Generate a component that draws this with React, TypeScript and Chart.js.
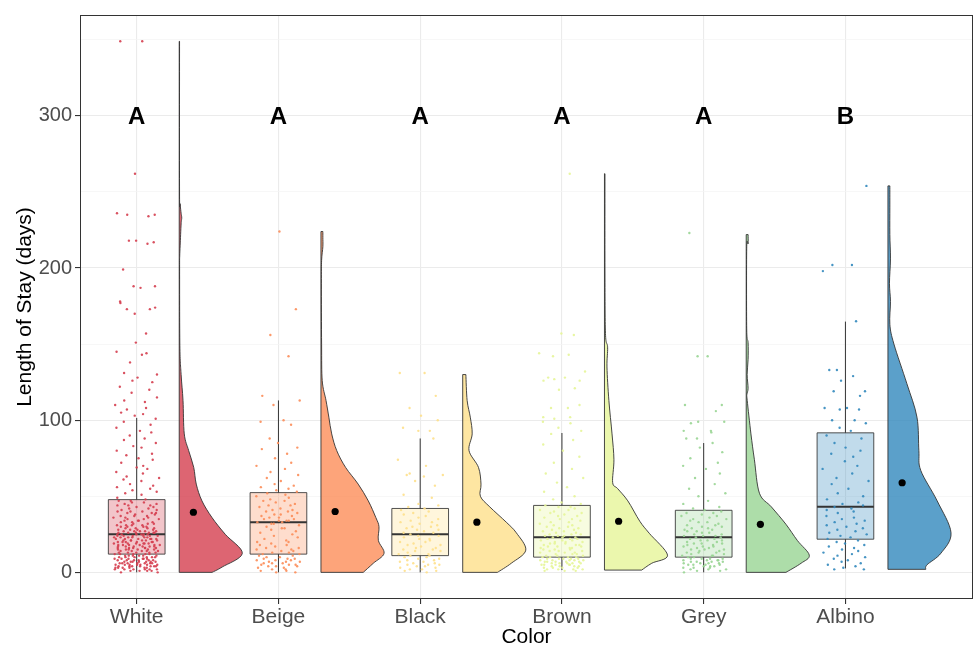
import React, { useEffect, useRef } from 'react';
import { Chart, registerables } from 'chart.js';
Chart.register(...registerables);

// ---------- data ----------
const categories = ['White', 'Beige', 'Black', 'Brown', 'Grey', 'Albino'];
const groupLetters = ['A', 'A', 'A', 'A', 'A', 'B'];
const letterLevel = 300;
const yMajorTicks = [0, 100, 200, 300];
const yMinorTicks = [50, 150, 250, 350];

// boxplot statistics (days)
const boxLow = [0, 0, 0, 1.5, 0, 2.6];
const boxQ1 = [12, 12, 11, 10, 10, 21.8];
const boxMedian = [25, 33, 25, 23, 23, 43.2];
const boxQ3 = [47.8, 52.4, 42, 44, 40.8, 91.7];
const boxHigh = [101.5, 113, 88, 91.6, 85, 164.8];
const groupMeans = [39.5, 40, 33, 33.6, 31.6, 58.9];

// half-violin density profiles: levels (days) and relative width
const whiteLevels = [0, 3.5, 12.5, 25, 36, 47, 58, 69, 80, 91, 113, 130, 149, 200, 208, 215, 229, 233, 236, 242, 250, 349];
const whiteDens = [0.52, 0.68, 1.0, 0.73, 0.52, 0.36, 0.27, 0.23, 0.15, 0.08, 0.06, 0.03, 0.01, 0.006, 0.008, 0.015, 0.03, 0.04, 0.03, 0.015, 0.005, 0.005];
const beigeLevels = [0, 6, 12.5, 21, 30, 36, 47, 58, 69, 80, 91, 102, 113, 126, 150, 190, 205, 214, 220, 224];
const beigeDens = [0.67, 0.83, 1.0, 0.91, 0.92, 0.87, 0.75, 0.59, 0.39, 0.25, 0.17, 0.125, 0.08, 0.02, 0.01, 0.006, 0.01, 0.03, 0.03, 0.03];
const blackLevels = [0, 6, 14.6, 26, 33, 43, 50, 58, 69, 80, 91, 102, 113, 130];
const blackDens = [0.55, 0.77, 1.0, 0.85, 0.69, 0.43, 0.28, 0.29, 0.25, 0.1, 0.15, 0.12, 0.07, 0.05];
const brownLevels = [1.5, 6, 11.3, 25.7, 33.6, 47, 55, 59, 74, 91, 113, 135, 148, 157, 200, 262];
const brownDens = [0.59, 0.75, 1.0, 0.71, 0.56, 0.37, 0.21, 0.13, 0.15, 0.12, 0.07, 0.04, 0.05, 0.016, 0.008, 0.008];
const greyLevels = [0, 6, 11.3, 21, 31.6, 43, 52, 74, 91, 113, 117, 121, 130, 140, 151, 160, 213, 216, 222];
const greyDens = [0.63, 0.87, 1.0, 0.81, 0.63, 0.4, 0.21, 0.13, 0.075, 0.016, 0.011, 0.03, 0.015, 0.03, 0.03, 0.008, 0.008, 0.03, 0.03];
const albinoLevels = [2, 5, 12.6, 26, 47, 67, 80, 102, 124, 150, 163, 178, 190, 206, 222, 240, 254];
const albinoDens = [0.6, 0.62, 0.84, 1.0, 0.78, 0.52, 0.49, 0.46, 0.3, 0.095, 0.03, 0.04, 0.024, 0.04, 0.03, 0.03, 0.03];

// individual observations (days)
const whiteValues = [
  349, 349, 262, 235, 235, 234, 236, 218, 217, 218, 216, 199, 188, 188, 187, 178, 173, 173, 170, 174, 177, 157, 151, 144, 145, 143, 138, 130, 131, 128, 126, 125, 122, 120, 118, 115, 113, 112, 110, 108, 107, 105, 104, 103,
  101, 99, 97, 95, 93, 92, 90, 88, 87, 85, 83, 82, 80, 78, 77, 75, 74, 72, 70, 69, 68, 66, 65, 63, 62, 61, 60, 58, 57, 56, 55, 54, 53, 52, 51, 49,
  48, 47, 47, 46, 46, 45, 45, 44, 44, 43, 43, 42, 42, 41, 41, 40, 40, 40, 39, 39, 38, 38, 37, 37, 37, 36, 36, 35, 35, 35, 34, 34, 33, 33, 33, 32, 32, 32, 31, 31, 31, 30, 30, 30, 30, 29, 29, 29, 29, 28, 28, 28, 28, 27, 27, 27, 27, 27, 26, 26, 26, 26, 26, 25, 25, 25, 25, 25, 25, 44, 39, 36, 34, 31, 26,
  24, 24, 24, 24, 24, 24, 23, 23, 23, 23, 23, 23, 22, 22, 22, 22, 22, 22, 21, 21, 21, 21, 21, 21, 20, 20, 20, 20, 20, 20, 19, 19, 19, 19, 19, 19, 18, 18, 18, 18, 18, 18, 17, 17, 17, 17, 17, 17, 16, 16, 16, 16, 16, 16, 15, 15, 15, 15, 15, 15, 14, 14, 14, 14, 14, 13, 13, 13, 13, 13, 12, 12, 12, 12, 12,
  11, 11, 11, 11, 11, 11, 10, 10, 10, 10, 10, 10, 9, 9, 9, 9, 9, 9, 8, 8, 8, 8, 8, 8, 7, 7, 7, 7, 7, 7, 7, 6, 6, 6, 6, 6, 6, 6, 5, 5, 5, 5, 5, 5, 5, 4, 4, 4, 4, 4, 4, 4, 3, 3, 3, 3, 3, 3, 2, 2, 2, 2, 2, 2, 1, 1, 1, 1, 0, 0,
];
const beigeValues = [
  224, 173, 156, 142, 116,
  113, 110, 100, 99, 97, 88, 85, 82, 81, 78, 75, 72, 70, 68, 66, 64, 62, 60, 58, 57, 56, 55, 54, 53, 52,
  51, 50, 49, 48, 47, 47, 46, 45, 44, 44, 43, 42, 41, 41, 40, 40, 39, 38, 38, 37, 37, 36, 36, 35, 35, 34, 34, 34, 33, 33,
  32, 31, 30, 29, 28, 27, 26, 25, 24, 23, 22, 21, 20, 20, 19, 18, 18, 17, 16, 16, 15, 15, 14, 14, 13, 13, 12, 12, 32, 29,
  11, 11, 10, 10, 9, 9, 9, 8, 8, 8, 7, 7, 7, 6, 6, 6, 5, 5, 5, 4, 4, 4, 3, 3, 2, 2, 1, 1, 0, 0,
];
const blackValues = [
  131, 131, 116, 108, 103, 100, 95, 93, 93,
  88, 74, 70, 65, 64, 64, 63, 60, 57, 51, 49, 45, 44, 43,
  42, 41, 40, 39, 38, 37, 36, 35, 34, 33, 33, 32, 31, 30, 30, 29, 28, 28, 27, 26, 26, 25,
  24, 24, 23, 22, 22, 21, 20, 20, 19, 18, 18, 17, 16, 16, 15, 15, 14, 14, 13, 12, 12, 11, 11,
  10, 10, 9, 9, 8, 8, 7, 7, 6, 6, 5, 5, 5, 4, 4, 3, 3, 2, 2, 1, 1, 0,
];
const brownValues = [
  262, 157, 156, 144, 143, 142, 132, 128, 128, 127, 126, 126, 121, 120, 110, 108, 108, 102, 102, 101, 99, 98, 95, 93,
  91, 87, 84, 80, 76, 72, 68, 65, 62, 59, 56, 53, 50, 48, 46, 45,
  44, 43, 43, 42, 41, 41, 40, 39, 39, 38, 37, 37, 36, 35, 35, 34, 33, 33, 32, 31, 31, 30, 30, 29, 29, 28, 28, 27, 27, 26, 26, 25, 25, 25, 24, 24, 24, 23, 23, 23,
  22, 22, 22, 21, 21, 21, 20, 20, 20, 19, 19, 19, 18, 18, 18, 17, 17, 17, 16, 16, 16, 15, 15, 15, 14, 14, 14, 13, 13, 13, 12, 12, 12, 11, 11, 11, 10, 10, 10, 10,
  9, 9, 9, 9, 9, 8, 8, 8, 8, 8, 7, 7, 7, 7, 7, 6, 6, 6, 6, 6, 5, 5, 5, 5, 5, 4, 4, 4, 4, 3, 3, 3, 3, 2, 2, 2, 2, 1, 1, 1,
];
const greyValues = [
  223, 142, 142, 110, 110, 106, 99, 99, 98, 93, 93, 92, 88, 88,
  85, 82, 79, 75, 72, 70, 68, 65, 62, 58, 55, 52, 50, 47, 45, 43, 42, 41,
  40, 39, 39, 38, 37, 37, 36, 35, 35, 34, 33, 33, 32, 31, 31, 30, 30, 29, 29, 28, 28, 27, 27, 26, 26, 25, 25, 24, 24, 24, 23, 23,
  22, 22, 21, 21, 21, 20, 20, 19, 19, 19, 18, 18, 17, 17, 17, 16, 16, 15, 15, 15, 14, 14, 13, 13, 13, 12, 12, 11, 11, 11, 10, 10,
  9, 9, 9, 9, 8, 8, 8, 8, 7, 7, 7, 7, 6, 6, 6, 6, 5, 5, 5, 5, 4, 4, 4, 3, 3, 3, 2, 2, 2, 1, 1, 0,
];
const albinoValues = [
  254, 202, 202, 198,
  165, 133, 133, 129, 126, 119, 119, 116, 108, 108, 107, 107, 100, 100, 98, 95, 93,
  90, 88, 85, 82, 80, 78, 76, 73, 70, 68, 65, 62, 60, 58, 55, 52, 50, 48, 46, 45, 44,
  43, 42, 41, 40, 39, 37, 36, 35, 34, 33, 32, 31, 30, 29, 28, 27, 26, 25, 24, 23, 22,
  21, 20, 19, 18, 17, 16, 15, 14, 13, 12, 11, 10, 9, 8, 7, 6, 5, 4, 3, 2, 2,
];

// ---------- layout / style ----------
const groupValues = [whiteValues, beigeValues, blackValues, brownValues, greyValues, albinoValues];
const violinLevels = [whiteLevels, beigeLevels, blackLevels, brownLevels, greyLevels, albinoLevels];
const violinDens = [whiteDens, beigeDens, blackDens, brownDens, greyDens, albinoDens];
const baseColors = [[213, 62, 79], [252, 141, 89], [254, 224, 139], [230, 245, 152], [153, 213, 148], [50, 136, 189]];
const rgba = (c: number[], a: number) => `rgba(${c[0]},${c[1]},${c[2]},${a})`;

// fixed jitter offsets (category units) for the point cloud
const JITTER = [-0.12, 0.05, -0.02, 0.13, -0.08, 0.09, -0.14, 0.01, 0.11, -0.05, 0.07, -0.1, 0.14, -0.03, 0.03, -0.13, 0.1, -0.07, 0.0, 0.12, -0.11, 0.06, -0.01, 0.08, -0.15, 0.04, -0.06, 0.15, -0.09, 0.02, -0.04, 0.115, -0.125, 0.085, -0.025, 0.135, -0.085, 0.045, -0.145, 0.065, -0.055];
const JITTER_FINE = [0.004, -0.011, 0.008, -0.003, 0.013, -0.007, 0.001, -0.014, 0.01, -0.005, 0.006];
const VIOLIN_NUDGE = 0.3;
const VIOLIN_WIDTH = 0.445;
const BOX_HALF = 0.2;
const MEAN_NUDGE = 0.4;
const FONT = '"Liberation Sans", Arial, Helvetica, sans-serif';

function smoothPath(ctx: CanvasRenderingContext2D, pts: number[][]) {
  for (let i = 0; i < pts.length - 1; i++) {
    const p0 = pts[Math.max(0, i - 1)];
    const p1 = pts[i];
    const p2 = pts[i + 1];
    const p3 = pts[Math.min(pts.length - 1, i + 2)];
    const c1x = p1[0] + (p2[0] - p0[0]) / 6;
    const c1y = p1[1] + (p2[1] - p0[1]) / 6;
    const c2x = p2[0] - (p3[0] - p1[0]) / 6;
    const c2y = p2[1] - (p3[1] - p1[1]) / 6;
    ctx.bezierCurveTo(c1x, c1y, c2x, c2y, p2[0], p2[1]);
  }
}

const rainPlugin = {
  id: 'raincloud',
  beforeDatasetsDraw(chart: any) {
    const { ctx, scales, chartArea } = chart;
    const x = scales.x;
    const y = scales.y;
    ctx.save();
    ctx.beginPath();
    ctx.rect(chartArea.left, chartArea.top, chartArea.right - chartArea.left, chartArea.bottom - chartArea.top);
    ctx.clip();
    // violins
    violinLevels.forEach((levels, i) => {
      const dens = violinDens[i];
      const base = i + 1 + VIOLIN_NUDGE;
      const xb = x.getPixelForValue(base);
      const pts = levels.map((lv, k) => [x.getPixelForValue(base + dens[k] * VIOLIN_WIDTH), y.getPixelForValue(lv)]);
      ctx.beginPath();
      ctx.moveTo(xb, pts[0][1]);
      ctx.lineTo(pts[0][0], pts[0][1]);
      smoothPath(ctx, pts);
      ctx.lineTo(xb, pts[pts.length - 1][1]);
      ctx.closePath();
      ctx.fillStyle = rgba(baseColors[i], 0.8);
      ctx.fill();
      ctx.strokeStyle = '#333333';
      ctx.lineWidth = 0.9;
      ctx.lineJoin = 'round';
      ctx.stroke();
    });
    // boxplots
    categories.forEach((_, i) => {
      const c = i + 1;
      const xc = x.getPixelForValue(c);
      const xl = x.getPixelForValue(c - BOX_HALF);
      const xr = x.getPixelForValue(c + BOX_HALF);
      const yq1 = y.getPixelForValue(boxQ1[i]);
      const yq3 = y.getPixelForValue(boxQ3[i]);
      ctx.strokeStyle = '#333333';
      ctx.lineWidth = 1;
      ctx.beginPath();
      ctx.moveTo(xc, y.getPixelForValue(boxHigh[i]));
      ctx.lineTo(xc, yq3);
      ctx.moveTo(xc, yq1);
      ctx.lineTo(xc, y.getPixelForValue(boxLow[i]));
      ctx.stroke();
      ctx.fillStyle = rgba(baseColors[i], 0.3);
      ctx.fillRect(xl, yq3, xr - xl, yq1 - yq3);
      ctx.strokeStyle = 'rgba(51,51,51,0.85)';
      ctx.strokeRect(xl, yq3, xr - xl, yq1 - yq3);
      ctx.lineWidth = 2;
      ctx.strokeStyle = '#333333';
      ctx.beginPath();
      const ym = y.getPixelForValue(boxMedian[i]);
      ctx.moveTo(xl, ym);
      ctx.lineTo(xr, ym);
      ctx.stroke();
    });
    ctx.restore();
  },
  afterDatasetsDraw(chart: any) {
    const { ctx, scales } = chart;
    ctx.save();
    ctx.font = `bold 24px ${FONT}`;
    ctx.fillStyle = '#000000';
    ctx.textAlign = 'center';
    ctx.textBaseline = 'middle';
    groupLetters.forEach((l, i) => {
      ctx.fillText(l, scales.x.getPixelForValue(i + 1), scales.y.getPixelForValue(letterLevel) + 1);
    });
    ctx.restore();
  },
  afterDraw(chart: any) {
    const { ctx, chartArea } = chart;
    ctx.save();
    ctx.strokeStyle = '#333333';
    ctx.lineWidth = 1;
    ctx.strokeRect(chartArea.left + 0.5, chartArea.top + 0.5, chartArea.right - chartArea.left - 1, chartArea.bottom - chartArea.top - 1);
    ctx.restore();
  },
};

export default function App() {
  const ref = useRef<HTMLCanvasElement>(null);
  useEffect(() => {
    document.body.style.margin = '0';
    if (!ref.current) return;
    const isMajor = (ctx: any) => ctx.tick && yMajorTicks.includes(ctx.tick.value);

    const pointSets = groupValues.map((vals, g) => ({
      label: categories[g],
      data: vals.map((v, k) => ({
        x: g + 1 + JITTER[(k + g * 7) % JITTER.length] + JITTER_FINE[(k + g * 3) % JITTER_FINE.length],
        y: v,
      })),
      backgroundColor: rgba(baseColors[g], 0.9),
      borderWidth: 0,
      pointRadius: 1.2,
    }));
    const meanSet = {
      label: 'mean',
      data: groupMeans.map((m, g) => ({ x: g + 1 + MEAN_NUDGE, y: m })),
      backgroundColor: '#000000',
      borderWidth: 0,
      pointRadius: 3.6,
    };

    const chart = new Chart(ref.current, {
      type: 'scatter',
      data: { datasets: [...pointSets, meanSet] as any },
      options: {
        responsive: false,
        animation: false,
        devicePixelRatio: 1,
        layout: { padding: { top: 13, right: 2, left: 0, bottom: 0 } },
        plugins: { legend: { display: false }, tooltip: { enabled: false } },
        scales: {
          x: {
            type: 'linear',
            min: 0.6,
            max: 6.9,
            afterBuildTicks: (s: any) => { s.ticks = categories.map((_, i) => ({ value: i + 1 })); },
            afterFit: (s: any) => { s.height = 49; },
            ticks: {
              callback: (v: any) => categories[Math.round(v) - 1] ?? '',
              color: '#4D4D4D',
              font: { size: 21, family: FONT },
              padding: 1,
              maxRotation: 0,
              autoSkip: false,
            },
            grid: { color: '#EBEBEB', lineWidth: 1.1, tickColor: '#333333', tickLength: 5 },
            border: { display: false },
            title: { display: true, text: 'Color', color: '#000000', font: { size: 21, family: FONT, lineHeight: 1 }, padding: { top: 0, bottom: 0 } },
          },
          y: {
            type: 'linear',
            min: -17.5,
            max: 366.3,
            afterBuildTicks: (s: any) => {
              s.ticks = [...yMajorTicks, ...yMinorTicks].sort((a, b) => a - b).map((v) => ({ value: v }));
            },
            afterFit: (s: any) => { s.width = 80; },
            ticks: {
              callback: (v: any) => (yMajorTicks.includes(v) ? String(v) : ''),
              color: '#4D4D4D',
              font: { size: 20, family: FONT },
              padding: 3,
              autoSkip: false,
            },
            grid: {
              color: (c: any) => (isMajor(c) ? '#EBEBEB' : '#F3F3F3'),
              lineWidth: (c: any) => (isMajor(c) ? 1.1 : 0.7),
              tickColor: (c: any) => (isMajor(c) ? '#333333' : 'rgba(0,0,0,0)'),
              tickLength: 5,
            },
            border: { display: false },
            title: { display: true, text: 'Length of Stay (days)', color: '#000000', font: { size: 21, family: FONT, lineHeight: 1 }, padding: { top: 14.5, bottom: 0 } },
          },
        },
      },
      plugins: [rainPlugin],
    });
    return () => chart.destroy();
  }, []);
  return (
    <div style={{ width: 977, height: 648 }}>
      <canvas ref={ref} width={977} height={648} style={{ display: 'block' }} />
    </div>
  );
}
